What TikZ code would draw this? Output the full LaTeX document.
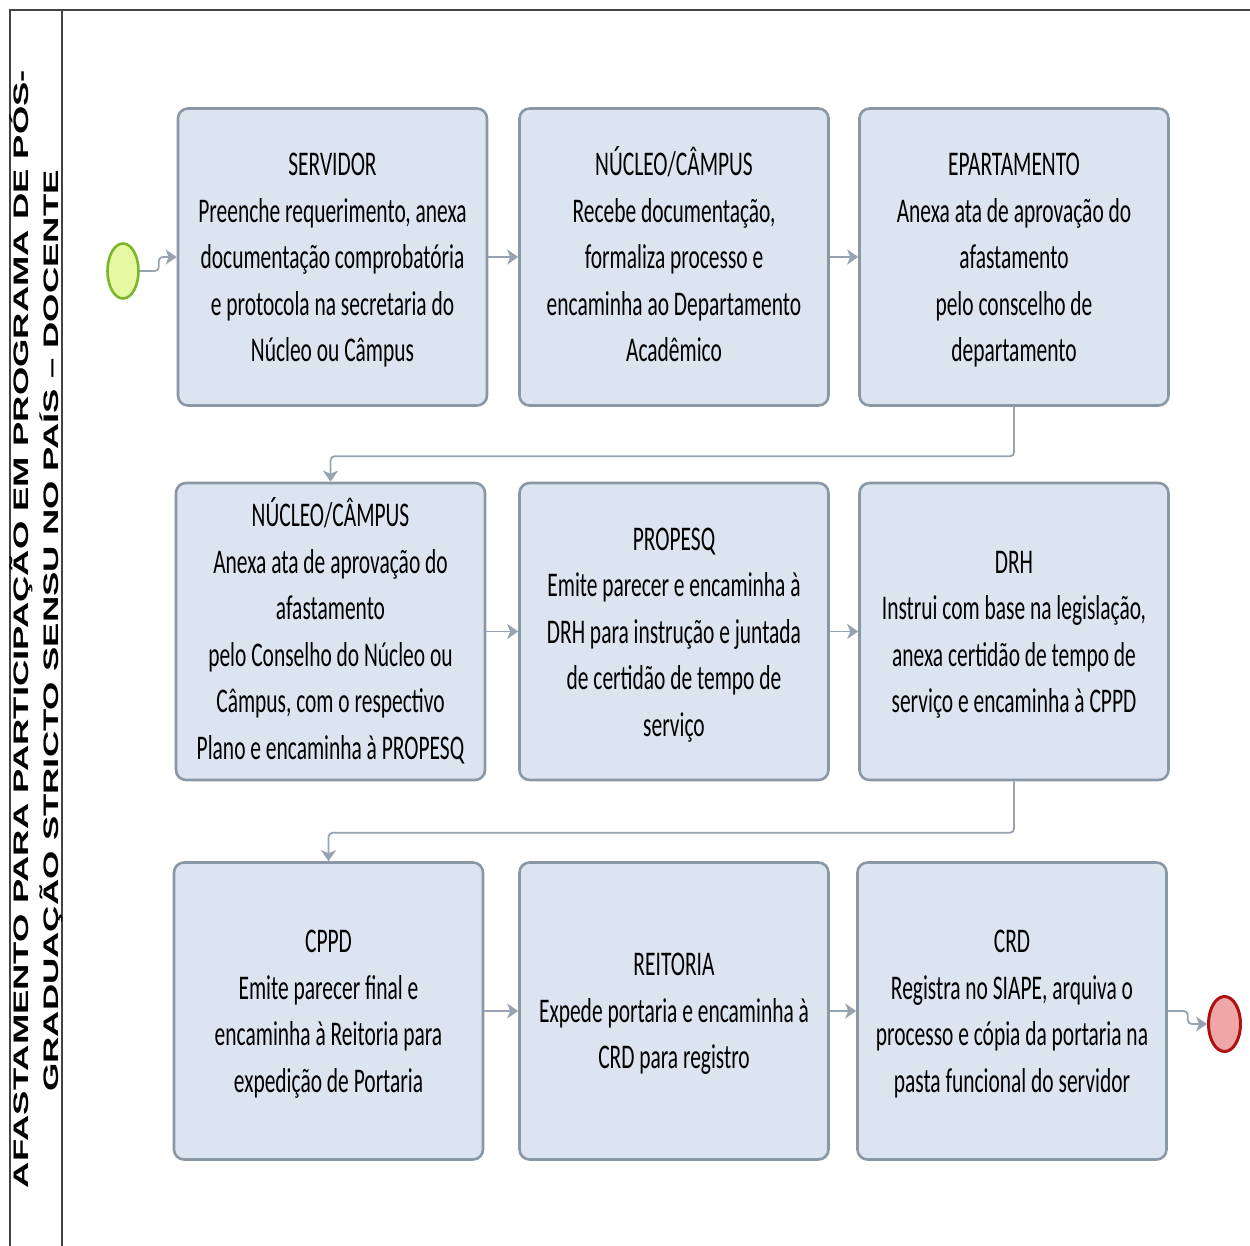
\documentclass[tikz,border=0pt]{standalone}
\usepackage{fontspec}
\usetikzlibrary{arrows.meta,shapes.geometric}
\newfontfamily\boxfont[FakeStretch=0.62]{Carlito}
\newfontfamily\titlefont[FakeStretch=1.735]{Liberation Sans}
\newcommand\firstln{\vphantom{ÚÂ}}
\newcommand\lastln{\vphantom{pq}}
\definecolor{boxfill}{HTML}{DCE4EF}
\definecolor{boxline}{HTML}{8A97A5}
\definecolor{conn}{HTML}{97A3B0}
\definecolor{frame}{HTML}{444444}
\definecolor{startfill}{HTML}{E6F8A2}
\definecolor{startline}{HTML}{7DB52C}
\definecolor{endfill}{HTML}{EFA6A6}
\definecolor{endline}{HTML}{AE1111}
\begin{document}
\begin{tikzpicture}[x=1pt,y=-1pt,
  stepbox/.style={draw=boxline, line width=2.6pt, fill=boxfill, rounded corners=10pt,
    minimum width=309pt, minimum height=297pt, inner sep=0pt, align=center,
    font=\boxfont\fontsize{34.6}{46.5}\selectfont},
  flow/.style={draw=conn, line width=1.8pt, rounded corners=4pt,
    -{Stealth[length=11pt,width=15pt,inset=3pt,fill=conn]}},
  titletext/.style={rotate=90, inner sep=0pt, font=\titlefont\bfseries\fontsize{21}{21}\selectfont}]
\useasboundingbox (0,0) rectangle (1250,1246);
% frame
\draw[frame, line width=1.6pt] (10,1246) -- (10,10) -- (1250,10);
\draw[frame, line width=1.6pt] (62,10) -- (62,1246);
% title
\node[titletext] (t1) at (21,629) {AFASTAMENTO PARA PARTICIPAÇÃO EM PROGRAMA DE PÓS-};
\node[titletext] (t2) at (51,631) {GRADUAÇÃO STRICTO SENSU NO PAÍS – DOCENTE};
% boxes
\node[stepbox] (b1) at (332.5,257) {\firstln SERVIDOR\\Preenche requerimento, anexa\\documentação comprobatória\\e protocola na secretaria do\\Núcleo ou Câmpus\lastln};
\node[stepbox] (b2) at (674,257) {\firstln NÚCLEO/CÂMPUS\\Recebe documentação,\\formaliza processo e\\encaminha ao Departamento\\Acadêmico\lastln};
\node[stepbox] (b3) at (1014,257) {\firstln EPARTAMENTO\\Anexa ata de aprovação do\\afastamento\\pelo conscelho de\\departamento\lastln};
\node[stepbox] (b4) at (330.5,631.5) {\firstln NÚCLEO/CÂMPUS\\Anexa ata de aprovação do\\afastamento\\pelo Conselho do Núcleo ou\\Câmpus, com o respectivo\\Plano e encaminha à PROPESQ\lastln};
\node[stepbox] (b5) at (674,631.5) {\firstln PROPESQ\\Emite parecer e encaminha à\\DRH para instrução e juntada\\de certidão de tempo de\\serviço\lastln};
\node[stepbox] (b6) at (1014,631.5) {\firstln DRH\\Instrui com base na legislação,\\anexa certidão de tempo de\\serviço e encaminha à CPPD\lastln};
\node[stepbox] (b7) at (328.5,1011) {\firstln CPPD\\Emite parecer final e\\encaminha à Reitoria para\\expedição de Portaria\lastln};
\node[stepbox] (b8) at (674,1011) {\firstln REITORIA\\Expede portaria e encaminha à\\CRD para registro\lastln};
\node[stepbox] (b9) at (1012,1011) {\firstln CRD\\Registra no SIAPE, arquiva o\\processo e cópia da portaria na\\pasta funcional do servidor\lastln};
% events
\node[draw=startline, fill=startfill, line width=2.6pt, ellipse, minimum width=31pt, minimum height=55pt, inner sep=0pt] (start) at (123,271) {};
\node[draw=endline, fill=endfill, line width=3pt, ellipse, minimum width=32pt, minimum height=55pt, inner sep=0pt] (end) at (1224.5,1024) {};
% connectors
\draw[flow] (start.east) -- ++(19,0) |- (b1.west);
\draw[flow] (b1.east) -- (b2.west);
\draw[flow] (b2.east) -- (b3.west);
\draw[flow] (b3.south) -- ++(0,49.5) -| (b4.north);
\draw[flow] (b4.east) -- (b5.west);
\draw[flow] (b5.east) -- (b6.west);
\draw[flow] (b6.south) -- ++(0,51.5) -| (b7.north);
\draw[flow] (b7.east) -- (b8.west);
\draw[flow] (b8.east) -- (b9.west);
\draw[flow] (b9.east) -- ++(20,0) |- (end.west);
\end{tikzpicture}
\end{document}
